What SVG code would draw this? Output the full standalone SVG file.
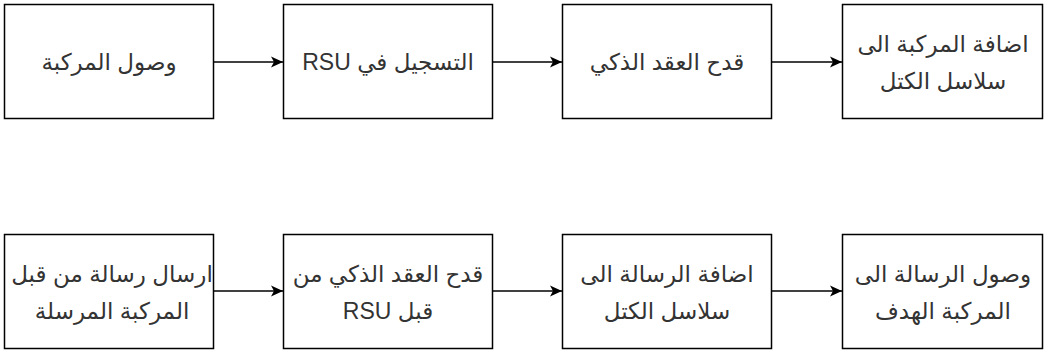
<svg xmlns="http://www.w3.org/2000/svg" width="1048" height="352" viewBox="0 0 1048 352">
<style>
.box{fill:#ffffff;stroke:#000000;stroke-width:1.5}
.t{font-family:"Liberation Sans","DejaVu Sans",Arial,sans-serif;font-size:23px;fill:#333333;text-anchor:middle;direction:rtl}
.c{stroke:#000000;stroke-width:1.5;fill:none}
</style>
<defs>
<marker id="arr" markerWidth="14" markerHeight="14" viewBox="0 0 14 14" refX="13" refY="7" orient="auto" markerUnits="userSpaceOnUse">
<path d="M1,1.5 L13,7 L1,12.5 L4,7 Z" fill="#000000"/>
</marker>
</defs>
<rect width="1048" height="352" fill="#ffffff"/>
<g id="n1"><rect class="box" x="4.5" y="4.5" width="209" height="114"/><text class="t" x="109" y="70">وصول المركبة</text></g>
<g id="n2"><rect class="box" x="283.5" y="4.5" width="209" height="114"/><text class="t" x="388" y="70">التسجيل في RSU</text></g>
<g id="n3"><rect class="box" x="562.5" y="4.5" width="209" height="114"/><text class="t" x="667" y="70">قدح العقد الذكي</text></g>
<g id="n4"><rect class="box" x="842.5" y="4.5" width="200" height="114"/><text class="t" x="943" y="52">اضافة المركبة الى</text><text class="t" x="943" y="89">سلاسل الكتل</text></g>
<g id="n5"><rect class="box" x="4.5" y="234.5" width="209" height="114"/><text class="t" x="112" y="282">ارسال رسالة من قبل</text><text class="t" x="112" y="319">المركبة المرسلة</text></g>
<g id="n6"><rect class="box" x="283.5" y="234.5" width="209" height="114"/><text class="t" x="388" y="282">قدح العقد الذكي من</text><text class="t" x="388" y="319">قبل RSU</text></g>
<g id="n7"><rect class="box" x="562.5" y="234.5" width="209" height="114"/><text class="t" x="667" y="282">اضافة الرسالة الى</text><text class="t" x="667" y="319">سلاسل الكتل</text></g>
<g id="n8"><rect class="box" x="842.5" y="234.5" width="200" height="114"/><text class="t" x="943" y="282">وصول الرسالة الى</text><text class="t" x="943" y="319">المركبة الهدف</text></g>
<g id="connectors">
<path class="c" d="M214,62 L283,62" marker-end="url(#arr)"/>
<path class="c" d="M493,62 L562,62" marker-end="url(#arr)"/>
<path class="c" d="M772,62 L842,62" marker-end="url(#arr)"/>
<path class="c" d="M214,291 L283,291" marker-end="url(#arr)"/>
<path class="c" d="M493,291 L562,291" marker-end="url(#arr)"/>
<path class="c" d="M772,291 L842,291" marker-end="url(#arr)"/>
</g>
</svg>
